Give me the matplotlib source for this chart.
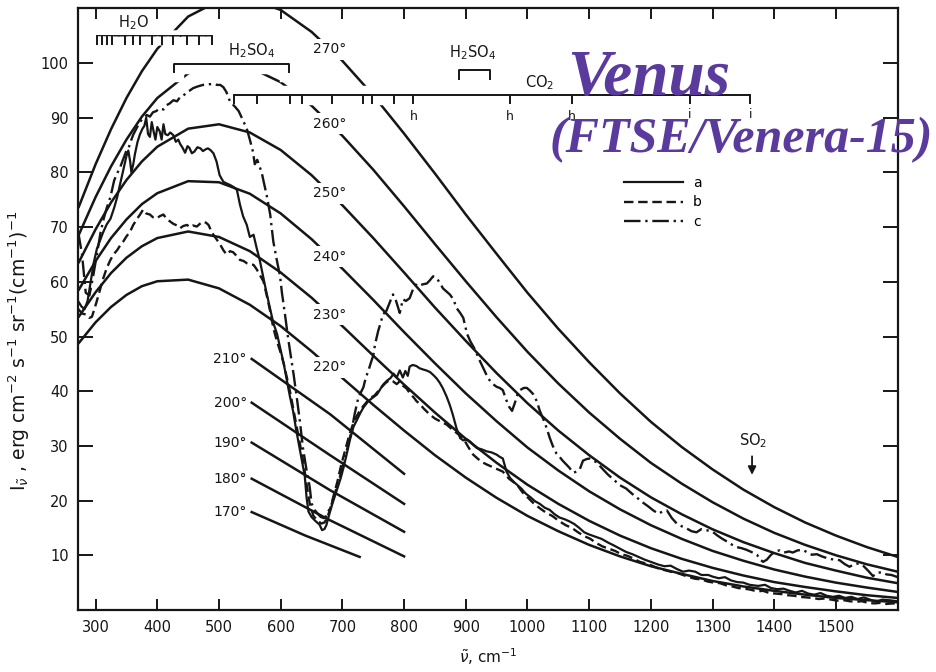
import matplotlib
matplotlib.use("Agg")
import matplotlib.pyplot as plt
import matplotlib.patheffects as pe

# Planck curves, wavenumber grid in cm-1
nu_planck = [272, 300, 325, 350, 375, 400, 450, 500, 550, 600, 650, 700, 750, 800, 850,
             900, 950, 1000, 1050, 1100, 1150, 1200, 1250, 1300, 1350, 1400, 1450, 1500, 1550, 1600]
planck_220 = [48.7, 52.6, 55.4, 57.6, 59.2, 60.1, 60.4, 58.8, 55.8, 51.9, 47.3, 42.4, 37.5, 32.8, 28.3,
              24.2, 20.5, 17.2, 14.4, 11.9, 9.8, 8.0, 6.6, 5.3, 4.3, 3.5, 2.8, 2.2, 1.8, 1.4]
planck_230 = [53.5, 58.1, 61.6, 64.4, 66.5, 68.0, 69.2, 68.2, 65.6, 61.7, 57.1, 51.9, 46.5, 41.2, 36.1,
              31.3, 26.9, 22.9, 19.4, 16.3, 13.6, 11.3, 9.35, 7.7, 6.3, 5.1, 4.2, 3.4, 2.7, 2.2]
planck_240 = [58.4, 63.8, 68.0, 71.4, 74.2, 76.2, 78.4, 78.2, 76.1, 72.5, 67.8, 62.4, 56.7, 50.8, 45.1,
              39.6, 34.5, 29.7, 25.5, 21.7, 18.4, 15.5, 13.0, 10.8, 9.0, 7.4, 6.1, 5.0, 4.1, 3.3]
planck_250 = [63.4, 69.6, 74.5, 78.6, 82.0, 84.7, 88.0, 88.8, 87.3, 84.1, 79.5, 74.0, 68.0, 61.7, 55.3,
              49.2, 43.3, 37.8, 32.8, 28.3, 24.2, 20.6, 17.5, 14.75, 12.4, 10.4, 8.6, 7.2, 5.9, 4.9]
planck_260 = [68.4, 75.5, 81.1, 86.0, 90.2, 93.6, 98.1, 99.9, 99.2, 96.5, 92.2, 86.7, 80.5, 73.8, 66.9,
              60.1, 53.5, 47.2, 41.4, 36.1, 31.3, 26.9, 23.1, 19.7, 16.7, 14.1, 11.9, 10.0, 8.35, 7.0]
planck_270 = [73.5, 81.5, 87.9, 93.6, 98.5, 102.6, 108.5, 111.4, 111.7, 109.7, 105.7, 100.4, 94.1, 87.1, 79.8,
              72.3, 65.1, 58.0, 51.4, 45.3, 39.6, 34.4, 29.8, 25.7, 22.0, 18.8, 16.0, 13.6, 11.5, 9.7]
planck_temps = [220, 230, 240, 250, 260, 270]

# short low-temperature segments
nu_short = [553, 680, 800]
nu_short_170 = [553, 640, 728]
short_210 = [45.9, 35.8, 24.9]
short_200 = [37.9, 28.3, 19.4]
short_190 = [30.6, 21.9, 14.3]
short_180 = [24.0, 16.4, 9.8]
short_170 = [17.9, 13.6, 9.7]

# spectrum a (solid)
nu_a = [272, 277, 282, 287, 292, 297, 302, 307, 312, 318, 324, 330, 335, 340, 345, 350, 353, 356, 358, 361,
        364, 368, 372, 376, 379, 382, 385, 388, 391, 394, 397, 400, 404, 407, 410, 413, 417, 421, 426, 430,
        434, 437, 441, 445, 449, 452, 456, 460, 465, 470, 474, 478, 482, 486, 491, 496, 501, 507, 512, 518,
        524, 529, 534, 539, 545, 550, 556, 561, 566, 572, 577, 583, 588, 594, 600, 605, 610, 615, 620, 625,
        630, 635, 639, 642, 645, 650, 656, 663, 667, 671, 674, 678, 684, 691, 697, 702, 707, 712, 718, 723,
        729, 734, 742, 750, 756, 761, 766, 772, 778, 783, 788, 793, 798, 802, 806, 809, 814, 820, 825, 830,
        836, 842, 847, 853, 858, 863, 869, 874, 879, 885, 891, 896, 902, 907, 912, 918, 925, 934, 942, 950,
        955, 960, 966, 972, 978, 983, 990, 997, 1005, 1012, 1020, 1028, 1036, 1044, 1052, 1060, 1068, 1076,
        1084, 1092, 1100, 1110, 1120, 1131, 1140, 1150, 1160, 1170, 1180, 1190, 1200, 1212, 1222, 1232, 1242,
        1252, 1262, 1272, 1282, 1293, 1300, 1310, 1320, 1330, 1340, 1350, 1360, 1374, 1385, 1395, 1405, 1415,
        1425, 1435, 1445, 1455, 1465, 1475, 1485, 1495, 1505, 1515, 1525, 1535, 1545, 1555, 1565, 1575, 1585,
        1600]
int_a = [56.4, 55.5, 55.0, 56.5, 60.0, 63.5, 66.0, 67.5, 69.0, 70.5, 71.5, 73.5, 75.5, 78.0, 80.5, 83.0, 84.0,
         82.0, 80.0, 81.5, 83.5, 85.6, 87.0, 88.0, 88.5, 90.0, 87.0, 86.5, 89.2, 87.5, 86.0, 88.3, 87.5, 86.0,
         88.8, 87.0, 86.8, 87.3, 86.8, 85.6, 86.0, 85.2, 84.5, 83.6, 84.8, 84.5, 83.5, 83.8, 84.6, 84.4, 83.9,
         84.2, 84.4, 84.1, 83.5, 82.0, 79.5, 78.3, 78.0, 77.7, 77.3, 76.8, 74.1, 72.0, 70.4, 68.2, 68.6, 66.2,
         64.0, 60.7, 58.0, 55.0, 52.5, 50.5, 47.5, 45.0, 42.0, 39.0, 36.4, 33.0, 30.0, 27.0, 24.5, 20.5, 18.0,
         17.0, 16.3, 15.6, 14.6, 14.8, 15.5, 17.2, 19.5, 21.9, 24.0, 26.1, 28.5, 31.0, 33.5, 34.6, 36.0, 37.0,
         38.2, 38.9, 39.4, 40.3, 41.2, 41.9, 42.4, 43.2, 42.5, 43.8, 42.5, 43.7, 42.8, 44.5, 44.8, 44.6, 44.2,
         44.0, 43.8, 43.5, 43.0, 42.3, 41.5, 40.5, 39.0, 37.5, 35.7, 33.2, 31.4, 31.0, 31.2, 30.8, 30.2, 29.6,
         29.4, 29.0, 28.8, 28.4, 28.0, 27.7, 25.3, 24.1, 23.4, 22.9, 22.2, 21.3, 20.6, 19.9, 19.4, 18.7, 18.3,
         17.5, 16.9, 16.6, 16.2, 15.7, 15.0, 14.2, 13.8, 13.4, 13.0, 12.3, 11.8, 11.2, 10.6, 10.2, 9.7, 9.2,
         8.8, 8.3, 8.0, 8.1, 7.5, 7.0, 7.2, 7.0, 6.4, 6.4, 6.1, 5.8, 6.0, 5.4, 5.1, 5.0, 4.6, 4.4, 4.6, 4.0,
         3.8, 3.9, 3.5, 3.2, 3.5, 3.0, 2.8, 3.1, 2.6, 2.4, 2.6, 2.2, 2.4, 2.0, 2.3, 1.9, 1.5, 1.9, 1.8, 1.6]

# spectrum b (dashed)
nu_b = [272, 278, 285, 290, 294, 298, 302, 307, 312, 318, 324, 329, 335, 340, 345, 350, 356, 361, 366, 372,
        377, 382, 388, 393, 399, 404, 410, 415, 421, 426, 432, 437, 442, 448, 453, 458, 464, 469, 474, 479,
        483, 487, 491, 497, 502, 507, 512, 518, 523, 528, 534, 540, 545, 550, 556, 561, 566, 572, 577, 583,
        588, 593, 600, 605, 610, 615, 620, 626, 631, 636, 642, 647, 653, 660, 666, 671, 676, 681, 686, 692,
        698, 704, 710, 716, 722, 728, 734, 740, 746, 752, 758, 764, 770, 776, 782, 788, 793, 798, 804, 810,
        816, 820, 826, 832, 842, 850, 860, 869, 878, 887, 896, 904, 912, 920, 927, 934, 942, 950, 960, 970,
        983, 992, 1000, 1010, 1020, 1030, 1040, 1052, 1062, 1072, 1082, 1092, 1102, 1112, 1122, 1132, 1142,
        1152, 1162, 1172, 1182, 1192, 1202, 1212, 1222, 1232, 1242, 1252, 1262, 1272, 1282, 1292, 1302, 1312,
        1322, 1332, 1342, 1352, 1362, 1372, 1382, 1392, 1402, 1412, 1422, 1432, 1442, 1452, 1462, 1472, 1482,
        1492, 1502, 1512, 1522, 1532, 1542, 1552, 1562, 1572, 1582, 1592, 1600]
int_b = [55.0, 54.2, 54.0, 53.4, 53.6, 55.0, 56.5, 58.5, 60.5, 62.5, 64.0, 65.0, 65.8, 66.7, 67.4, 68.3, 69.2,
         70.4, 71.3, 72.3, 73.2, 72.5, 72.3, 71.8, 71.6, 72.0, 72.3, 71.5, 71.0, 70.6, 70.3, 69.8, 70.2, 70.4,
         70.0, 70.3, 70.1, 70.6, 71.0, 70.8, 70.4, 69.4, 68.6, 67.6, 66.8, 65.8, 65.0, 65.6, 65.4, 64.8, 64.0,
         63.8, 63.4, 63.2, 63.1, 62.3, 61.3, 60.1, 57.7, 54.6, 51.6, 49.5, 47.0, 45.0, 42.5, 40.0, 37.0, 33.5,
         30.5, 27.5, 23.0, 19.5, 17.2, 16.3, 15.8, 16.0, 17.0, 18.8, 21.0, 23.5, 26.5, 29.0, 31.5, 33.6, 35.2,
         36.4, 37.3, 38.1, 38.8, 39.2, 40.0, 40.8, 41.5, 42.0, 41.8, 41.3, 41.8, 41.0, 40.5, 39.5, 38.8, 38.2,
         37.6, 36.8, 35.7, 35.0, 34.4, 33.9, 33.0, 32.2, 31.4, 29.8, 28.4, 27.6, 27.0, 26.6, 26.2, 25.8, 25.3,
         24.0, 22.9, 21.5, 20.6, 19.5, 18.6, 17.8, 17.2, 16.2, 15.5, 15.0, 14.2, 13.5, 13.0, 12.2, 11.6, 11.2,
         10.8, 10.2, 9.9, 9.4, 8.8, 8.5, 8.1, 7.6, 7.3, 7.0, 6.8, 6.4, 6.0, 5.7, 5.6, 5.2, 5.0, 4.9, 4.5, 4.3,
         4.0, 3.9, 3.7, 3.4, 3.5, 3.1, 3.0, 2.9, 2.7, 2.6, 2.4, 2.3, 2.2, 2.0, 2.1, 1.9, 1.7, 1.8, 1.6, 1.5,
         1.6, 1.3, 1.2, 1.3, 1.1, 1.2, 1.1]

# spectrum c (dash-dot)
nu_c = [272, 278, 284, 290, 296, 302, 308, 313, 318, 324, 330, 334, 340, 345, 350, 353, 358, 361, 366, 372,
        377, 383, 388, 393, 398, 404, 410, 415, 420, 426, 432, 437, 442, 448, 453, 458, 465, 474, 482, 491,
        497, 502, 507, 512, 515, 518, 521, 526, 532, 539, 545, 550, 555, 558, 562, 566, 569, 573, 577, 583,
        588, 594, 599, 602, 607, 612, 617, 621, 626, 631, 636, 642, 647, 650, 655, 660, 665, 670, 674, 679,
        683, 687, 691, 696, 701, 707, 711, 715, 720, 726, 730, 734, 738, 742, 747, 750, 753, 758, 762, 766,
        771, 776, 782, 787, 793, 798, 803, 809, 815, 821, 829, 837, 842, 847, 852, 858, 863, 869, 874, 880,
        885, 891, 896, 902, 907, 913, 918, 923, 928, 932, 936, 940, 944, 950, 955, 960, 966, 970, 975, 980,
        984, 988, 994, 999, 1004, 1009, 1015, 1020, 1026, 1031, 1036, 1041, 1047, 1052, 1057, 1062, 1068, 1074,
        1080, 1085, 1090, 1096, 1101, 1107, 1112, 1120, 1130, 1140, 1150, 1160, 1170, 1177, 1185, 1195, 1204,
        1212, 1219, 1226, 1234, 1242, 1250, 1258, 1266, 1274, 1282, 1290, 1300, 1308, 1316, 1325, 1332, 1339,
        1347, 1355, 1363, 1372, 1377, 1382, 1388, 1394, 1401, 1409, 1416, 1424, 1430, 1438, 1446, 1454, 1461,
        1469, 1477, 1485, 1492, 1499, 1506, 1514, 1522, 1530, 1537, 1545, 1552, 1560, 1567, 1575, 1582, 1590,
        1600]
int_c = [69.0, 65.0, 58.0, 57.5, 61.0, 65.0, 69.0, 71.5, 73.5, 75.5, 78.5, 79.6, 81.0, 82.5, 84.0, 84.3, 86.0,
         86.9, 88.0, 89.3, 89.8, 90.5, 90.2, 91.0, 91.2, 91.7, 91.5, 92.3, 92.6, 93.2, 93.0, 93.8, 94.0, 94.7,
         95.0, 95.4, 95.7, 96.0, 96.1, 96.2, 96.0, 96.0, 95.6, 94.7, 93.8, 92.9, 92.6, 92.0, 91.2, 89.5, 88.0,
         86.0, 83.8, 81.5, 82.3, 81.0, 80.1, 78.0, 76.0, 72.3, 67.4, 63.8, 61.0, 58.0, 54.0, 49.7, 46.0, 43.0,
         38.9, 34.6, 29.7, 25.5, 22.5, 19.5, 18.3, 17.6, 17.0, 16.8, 17.2, 18.5, 19.5, 21.0, 22.5, 24.3, 26.5,
         29.1, 31.0, 32.8, 35.9, 38.9, 39.8, 40.7, 42.5, 43.7, 45.5, 46.5, 48.6, 51.0, 52.5, 54.1, 54.6, 56.0,
         57.7, 56.5, 54.3, 56.8, 56.5, 57.0, 58.8, 59.7, 59.5, 59.7, 60.3, 61.0, 60.8, 59.8, 58.8, 58.2, 57.7,
         56.8, 55.2, 54.3, 53.4, 50.5, 49.2, 48.0, 46.8, 45.5, 44.3, 43.3, 42.4, 41.8, 41.3, 40.8, 40.6, 40.2,
         38.3, 37.2, 36.4, 38.0, 39.5, 40.2, 40.6, 40.6, 40.1, 39.5, 38.2, 36.4, 34.8, 33.3, 31.5, 30.0, 28.6,
         28.0, 27.3, 26.7, 26.0, 25.1, 25.3, 25.8, 27.3, 27.6, 27.7, 27.3, 27.0, 26.0, 24.8, 23.8, 22.8, 22.2,
         21.2, 20.6, 19.8, 19.0, 18.2, 17.6, 18.0, 18.2, 16.8, 15.8, 15.3, 14.9, 14.4, 14.2, 14.8, 14.6, 14.3,
         13.6, 13.0, 12.4, 11.9, 11.5, 11.3, 11.0, 10.6, 10.1, 9.2, 8.8, 9.2, 10.0, 10.7, 10.9, 10.5, 10.7,
         10.5, 10.9, 11.0, 10.5, 10.1, 10.2, 9.8, 9.5, 9.3, 9.2, 9.1, 8.4, 7.9, 8.4, 8.5, 8.0, 7.2, 6.2, 6.8,
         6.9, 6.5, 6.4, 6.0]

# annotation positions (cm-1)
h2o_ticks = [302, 310, 318, 326, 348, 361, 372, 391, 408, 426, 448, 467, 488]
co2_ticks = [524, 561, 615, 634, 683, 734, 748, 783, 815, 972, 1072, 1263, 1361]
h_marks = [815, 972, 1072]
i_marks = [1263, 1361]

ink = "#161616"
fig = plt.figure(figsize=(9.37, 6.72), dpi=100)
ax = fig.add_axes([0.0836, 0.0923, 0.8744, 0.8953])

planck = {220: planck_220, 230: planck_230, 240: planck_240,
          250: planck_250, 260: planck_260, 270: planck_270}
for t in planck_temps:
    ax.plot(nu_planck, planck[t], color=ink, lw=1.8, zorder=2, solid_capstyle="butt")

shorts = [(210, nu_short, short_210), (200, nu_short, short_200), (190, nu_short, short_190),
          (180, nu_short, short_180), (170, nu_short_170, short_170)]
for t, xs, ys in shorts:
    ax.plot(xs, ys, color=ink, lw=1.8, zorder=2)
    ax.text(xs[0] - 8, ys[0], f"{t}°", ha="right", va="center", fontsize=10, color=ink)

# curve labels sitting on the curves
lab_nu = 680
for t in planck_temps:
    i0 = nu_planck.index(650)
    yv = planck[t][i0] + (planck[t][i0 + 1] - planck[t][i0]) * (lab_nu - 650) / 50
    ax.text(lab_nu, yv, f"{t}°", ha="center", va="center", fontsize=10, color=ink, zorder=5,
            bbox=dict(boxstyle="square,pad=0.25", fc="white", ec="none"))

halo = [pe.Stroke(linewidth=9, foreground="white"), pe.Normal()]
halo_wide = [pe.Stroke(linewidth=14, foreground="white"), pe.Normal()]

# spectra
la, = ax.plot(nu_a, int_a, color=ink, lw=1.6, zorder=4, label="a")
lb, = ax.plot(nu_b, int_b, color=ink, lw=1.7, zorder=4, dashes=(4, 2), label="b")
lc, = ax.plot(nu_c, int_c, color=ink, lw=1.7, zorder=4, dashes=(7, 2, 1, 2), label="c")

# H2O comb
ax.plot([h2o_ticks[0], h2o_ticks[-1]], [104.9, 104.9], color=ink, lw=1.4, zorder=3, path_effects=halo)
ax.vlines(h2o_ticks, 103.3, 104.9, color=ink, lw=1.4, zorder=3, path_effects=halo)
ax.text(362, 106.6, r"H$_2$O", ha="center", va="baseline", fontsize=10.5, color=ink, zorder=5)

# H2SO4 brackets
ax.plot([427, 427, 614, 614], [98.4, 99.8, 99.8, 98.4], color=ink, lw=1.4, zorder=3, path_effects=halo_wide)
ax.text(552, 101.4, r"H$_2$SO$_4$", ha="center", va="baseline", fontsize=10.5, color=ink, zorder=5)
ax.plot([889, 889, 939, 939], [97.1, 98.7, 98.7, 97.1], color=ink, lw=1.4, zorder=3, path_effects=halo)
ax.text(911, 101.1, r"H$_2$SO$_4$", ha="center", va="baseline", fontsize=10.5, color=ink, zorder=5)

# CO2 line with ticks
ax.plot([co2_ticks[0], co2_ticks[-1]], [94.2, 94.2], color=ink, lw=1.4, zorder=3, path_effects=halo_wide)
ax.vlines(co2_ticks, 92.5, 94.2, color=ink, lw=1.4, zorder=3)
ax.text(1019, 95.6, r"CO$_2$", ha="center", va="baseline", fontsize=10.5, color=ink, zorder=5)
for x in h_marks:
    ax.text(x, 90.2, "h", ha="center", va="center", fontsize=9, color=ink)
for x in i_marks:
    ax.text(x, 90.6, "i", ha="center", va="center", fontsize=9, color=ink)

# SO2 arrow
ax.annotate("", xy=(1364, 24.2), xytext=(1364, 28.6),
            arrowprops=dict(arrowstyle="-|>", color=ink, lw=1.3, mutation_scale=12))
ax.text(1366, 30.1, r"SO$_2$", ha="center", va="baseline", fontsize=10.5, color=ink)

ax.legend(handles=[la, lb, lc], loc="upper left", bbox_to_anchor=(0.657, 0.733), frameon=False,
          handlelength=4.3, handletextpad=0.7, labelspacing=0.4, fontsize=10, borderpad=0)

ax.set_xlim(272, 1600)
ax.set_ylim(0, 110)
ax.set_xticks(range(300, 1600, 100))
ax.set_yticks(range(10, 110, 10))
ax.tick_params(axis="both", direction="in", top=True, right=True, width=1.4, colors=ink,
               labelsize=10.5)
ax.tick_params(axis="x", length=8, pad=7)
ax.tick_params(axis="y", length=11, pad=7)
for s in ax.spines.values():
    s.set_linewidth(1.6)
    s.set_color(ink)

ax.set_xlabel(r"$\tilde{\nu}$, cm$^{-1}$", fontsize=11, color=ink)
ax.xaxis.set_label_coords(0.5, -0.06)
ax.set_ylabel(r"I$_{\tilde{\nu}}$ , erg cm$^{-2}$ s$^{-1}$ sr$^{-1}$(cm$^{-1}$)$^{-1}$", fontsize=13.5,
              color=ink)
ax.yaxis.set_label_coords(-0.056, 0.43)

purple = "#5b3a9e"
fig.text(0.692, 0.858, "Venus", ha="center", va="baseline", fontsize=47, color=purple,
         family="Liberation Serif", weight="bold", style="italic")
fig.text(0.996, 0.774, "(FTSE/Venera-15)", ha="right", va="baseline", fontsize=36, color=purple,
         family="Liberation Serif", weight="bold", style="italic")

fig.savefig("out.png", dpi=100)
